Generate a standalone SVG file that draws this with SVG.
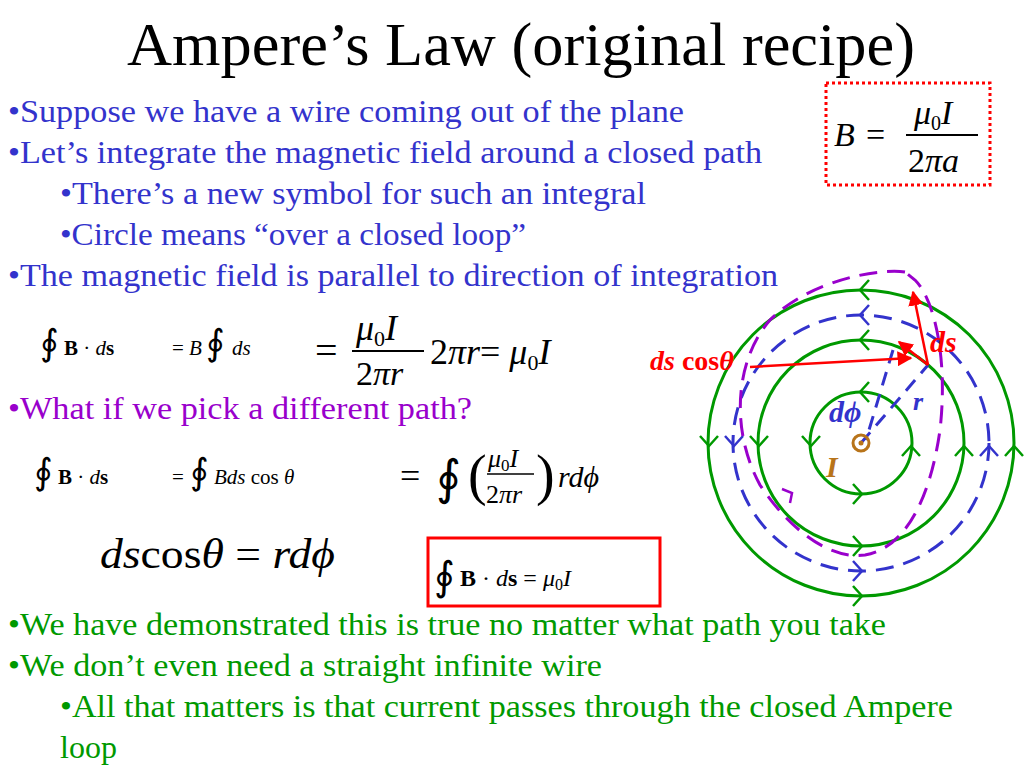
<svg xmlns="http://www.w3.org/2000/svg" width="1024" height="768" viewBox="0 0 1024 768">
<defs>
<style>
text{font-family:"Liberation Serif","Times New Roman",serif}
.b{fill:#3333cc;font-size:32px}
.g{fill:#009900;font-size:32px}
.m{font-style:italic}
.gr{fill:none;stroke:#009900;stroke-width:3}
.bd{fill:none;stroke:#3333cc;stroke-width:3;stroke-dasharray:18 10}
.ar{fill:none;stroke-width:2.5}
</style>
<marker id="ah" viewBox="0 0 10 10" refX="9" refY="5" markerWidth="6" markerHeight="6" orient="auto"><path d="M0,0 L10,5 L0,10 z" fill="#ff0000"/></marker>
</defs>
<rect width="1024" height="768" fill="#fff"/>
<text x="127" y="65" font-size="62" textLength="788" lengthAdjust="spacingAndGlyphs">Ampere’s Law (original recipe)</text>
<text class="b" x="8" y="122" textLength="676" lengthAdjust="spacingAndGlyphs">•Suppose we have a wire coming out of the plane</text>
<text class="b" x="8" y="163" textLength="754" lengthAdjust="spacingAndGlyphs">•Let’s integrate the magnetic field around a closed path</text>
<text class="b" x="60" y="204" textLength="586" lengthAdjust="spacingAndGlyphs">•There’s a new symbol for such an integral</text>
<text class="b" x="60" y="245" textLength="466" lengthAdjust="spacingAndGlyphs">•Circle means “over a closed loop”</text>
<text class="b" x="8" y="286" textLength="770" lengthAdjust="spacingAndGlyphs">•The magnetic field is parallel to direction of integration</text>
<rect x="826" y="83" width="164" height="102" fill="none" stroke="#ff0000" stroke-width="3" stroke-dasharray="3 3"/>
<text x="834" y="146" font-size="34" class="m">B</text><text x="866" y="146" font-size="34">=</text>
<line x1="906" y1="135" x2="978" y2="135" stroke="#000" stroke-width="2"/>
<text x="914" y="124" font-size="34" class="m">μ<tspan font-size="20" font-style="normal" dy="6">0</tspan><tspan dy="-6">I</tspan></text>
<text x="908" y="172" font-size="34">2<tspan class="m">πa</tspan></text>
<g font-size="21">
<text x="40" y="355" font-size="36">∮</text><text x="64" y="355"><tspan font-weight="bold">B</tspan> · <tspan class="m">d</tspan><tspan font-weight="bold">s</tspan></text>
<text x="172" y="355">= <tspan class="m">B</tspan></text><text x="206" y="355" font-size="36">∮</text><text x="232" y="355" class="m">ds</text>
</g>
<text x="315" y="364" font-size="40">=</text>
<line x1="352" y1="351" x2="424" y2="351" stroke="#000" stroke-width="2"/>
<text x="356" y="340" font-size="36" class="m">μ<tspan font-size="22" font-style="normal" dy="6">0</tspan><tspan dy="-6">I</tspan></text>
<text x="356" y="385" font-size="34">2<tspan class="m">πr</tspan></text>
<text x="430" y="364" font-size="36">2<tspan class="m">πr</tspan>= <tspan class="m">μ</tspan><tspan font-size="22" dy="6">0</tspan><tspan dy="-6" class="m">I</tspan></text>
<text x="8" y="419" font-size="32" fill="#9900cc" textLength="464" lengthAdjust="spacingAndGlyphs">•What if we pick a different path?</text>
<g font-size="21">
<text x="34" y="484" font-size="36">∮</text><text x="58" y="484"><tspan font-weight="bold">B</tspan> · <tspan class="m">d</tspan><tspan font-weight="bold">s</tspan></text>
<text x="172" y="484">=</text><text x="190" y="484" font-size="36">∮</text><text x="214" y="484" class="m">Bds <tspan font-style="normal">cos</tspan> θ</text>
</g>
<text x="400" y="488" font-size="36">=</text>
<text x="436" y="494" font-size="48">∮</text>
<text x="468" y="494" font-size="56">(</text><text x="536" y="494" font-size="56">)</text>
<line x1="487" y1="474" x2="534" y2="474" stroke="#000" stroke-width="1.5"/>
<text x="488" y="467" font-size="26" class="m">μ<tspan font-size="17" font-style="normal" dy="4">0</tspan><tspan dy="-4">I</tspan></text>
<text x="486" y="503" font-size="26">2<tspan class="m">πr</tspan></text>
<text x="558" y="487" font-size="30" class="m">rdϕ</text>
<text x="100" y="568" font-size="42" textLength="235" lengthAdjust="spacingAndGlyphs"><tspan class="m">ds</tspan>cos<tspan class="m">θ</tspan> = <tspan class="m">rdϕ</tspan></text>
<rect x="428" y="538" width="232" height="68" fill="none" stroke="#ff0000" stroke-width="3"/>
<text x="434" y="590" font-size="40">∮</text>
<text x="460" y="586" font-size="24"><tspan font-weight="bold">B</tspan> · <tspan class="m">d</tspan><tspan font-weight="bold">s</tspan> = <tspan class="m">μ</tspan><tspan font-size="16" dy="4">0</tspan><tspan dy="-4" class="m">I</tspan></text>
<text class="g" x="8" y="635" textLength="878" lengthAdjust="spacingAndGlyphs">•We have demonstrated this is true no matter what path you take</text>
<text class="g" x="8" y="676" textLength="594" lengthAdjust="spacingAndGlyphs">•We don’t even need a straight infinite wire</text>
<text class="g" x="60" y="717" textLength="893" lengthAdjust="spacingAndGlyphs">•All that matters is that current passes through the closed Ampere</text>
<text class="g" x="60" y="758">loop</text>
<g id="field">
<circle class="gr" cx="861" cy="443" r="51"/>
<circle class="gr" cx="861" cy="443" r="103"/>
<circle class="gr" cx="861" cy="443" r="153"/>
<circle class="bd" cx="861" cy="443" r="128"/>
<g fill="none" stroke-width="2.5" stroke="#009900">
<path d="M869,402 l-9,-10 9,-10 M820,436 l-9,10 -9,-10 M920,456 l-9,-10 -9,10 M853,484 l9,10 -9,10"/>
<path d="M869,350 l-9,-10 9,-10 M768,436 l-9,10 -9,-10 M973,456 l-9,-10 -9,10 M853,536 l9,10 -9,10"/>
<path d="M869,300 l-9,-10 9,-10 M718,436 l-9,10 -9,-10 M1023,456 l-9,-10 -9,10 M853,586 l9,10 -9,10"/>
</g>
<path d="M869,325 l-9,-10 9,-10 M743,436 l-9,10 -9,-10 M998,456 l-9,-10 -9,10 M853,561 l9,10 -9,10" fill="none" stroke="#3333cc" stroke-width="2.5"/>
<path d="M905,272 C880,268 810,280 770,320 C735,360 730,430 760,485 C790,530 830,560 865,555 C905,548 930,500 940,430 C948,360 935,300 915,280 Z" fill="none" stroke="#9900cc" stroke-width="3" stroke-dasharray="18 10"/>
<path d="M782,489 l10,4 -2,10" fill="none" stroke="#9900cc" stroke-width="2.5"/>
<line x1="861" y1="443" x2="928" y2="365" stroke="#3333cc" stroke-width="3" stroke-dasharray="14 9"/>
<line x1="893" y1="350" x2="866" y2="440" stroke="#3333cc" stroke-width="3" stroke-dasharray="14 9"/>
<circle cx="861" cy="443" r="8" fill="none" stroke="#b8741a" stroke-width="3"/>
<circle cx="861" cy="443" r="2.5" fill="#b8741a"/>
<line class="ar" x1="928" y1="365" x2="913" y2="292" stroke="#ff0000" marker-end="url(#ah)"/>
<line class="ar" x1="928" y1="365" x2="899" y2="342" stroke="#ff0000" marker-end="url(#ah)"/>
<line class="ar" x1="750" y1="367" x2="911" y2="358" stroke="#ff0000" marker-end="url(#ah)"/>
<text x="930" y="352" font-size="30" fill="#ff0000" font-weight="bold" class="m">ds</text>
<text x="650" y="370" font-size="28" fill="#ff0000" font-weight="bold"><tspan class="m">ds</tspan> cos<tspan class="m">θ</tspan></text>
<text x="829" y="422" font-size="30" fill="#3333cc" font-weight="bold" class="m">dϕ</text>
<text x="913" y="410" font-size="26" fill="#3333cc" font-weight="bold" class="m">r</text>
<text x="826" y="477" font-size="30" fill="#b8741a" font-weight="bold" class="m">I</text>
</g>
</svg>
